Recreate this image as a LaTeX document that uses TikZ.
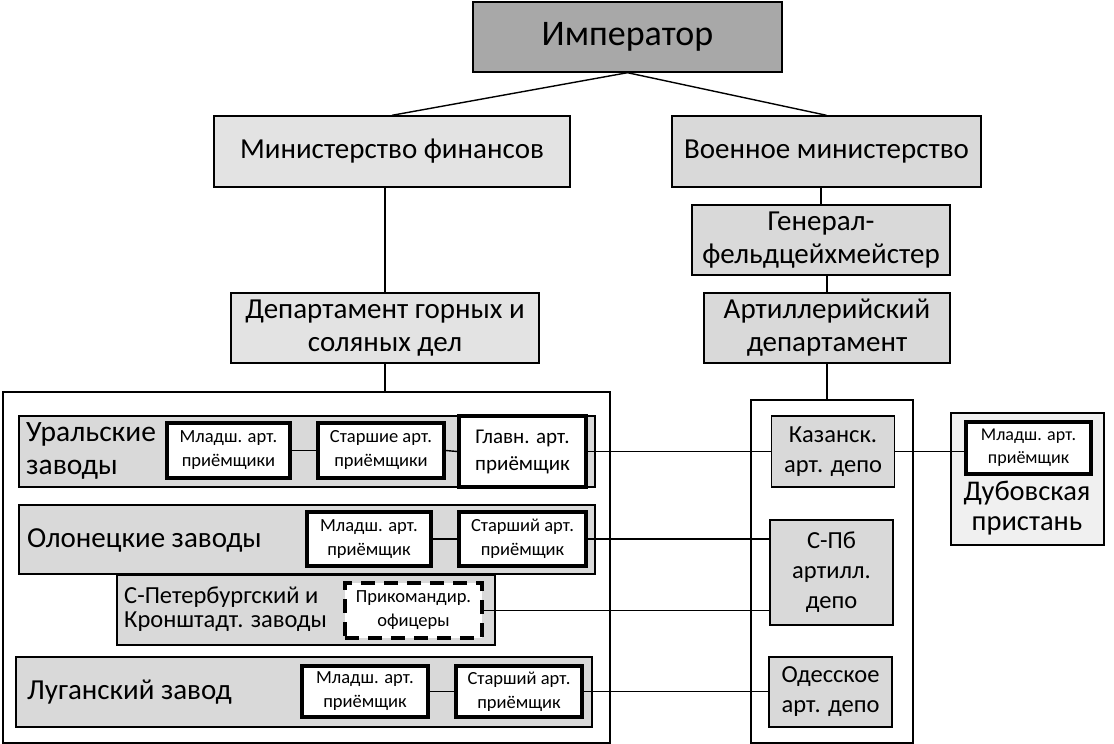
\documentclass[tikz,border=0pt]{standalone}
\usepackage{fontspec}
\setmainfont{Carlito}
\begin{document}
\begin{tikzpicture}[x=1pt,y=-1pt,
  base/.style={draw=black, line width=1.4pt, inner sep=0pt, align=center},
  bigf/.style={font=\fontsize{29}{33}\selectfont},
  midf/.style={font=\fontsize{24.5}{30}\selectfont},
  smallf/.style={font=\fontsize{18.5}{24}\selectfont},
  gbox/.style={base, fill=#1},
  thickbox/.style={base, line width=3.6pt, fill=white, smallf},
  dashbox/.style={base, line width=3.6pt, dash pattern=on 14pt off 9pt, fill=white, smallf},
  conn/.style={line width=1.4pt},
  strip/.style={base, fill=gray!30},
  ltext/.style={inner sep=0pt, align=left, anchor=west}
]
\useasboundingbox (0,0) rectangle (1114,744);

% top levels
\node[gbox=gray!68, minimum width=309pt, minimum height=70pt, font=\fontsize{36}{40}\selectfont] (imp) at (627.5,37) {Император};
\node[gbox=gray!22, minimum width=356pt, minimum height=71pt, bigf] (minfin) at (392,151.5) {Министерство финансов};
\node[gbox=gray!30, minimum width=309pt, minimum height=71pt, bigf] (voen) at (826.5,151.5) {Военное министерство};
\node[gbox=gray!30, minimum width=258pt, minimum height=70pt, bigf] (gen) at (821,240) {Генерал-\\фельдцейхмейстер};
\node[gbox=gray!30, minimum width=246pt, minimum height=70pt, bigf] (art) at (827,328) {Артиллерийский\\департамент};
\node[gbox=gray!22, minimum width=308pt, minimum height=70pt, bigf] (dep) at (385,328) {Департамент горных и\\соляных дел};

% outer containers
\node[base, fill=white, minimum width=607pt, minimum height=351pt] (lout) at (306.5,567.5) {};
\node[base, fill=white, minimum width=162pt, minimum height=343pt] (rout) at (832,571.5) {};

% strips
\node[strip, minimum width=576pt, minimum height=71pt] (ural) at (307,451.5) {};
\node[ltext, font=\fontsize{29.5}{33}\selectfont] at (26,451) {Уральские\\заводы};
\node[strip, minimum width=576pt, minimum height=69pt] (olon) at (307,539.5) {};
\node[ltext, bigf] at (27,540) {Олонецкие заводы};
\node[strip, minimum width=378pt, minimum height=70pt] (spbz) at (306,610) {};
\node[ltext, font=\fontsize{24.5}{24.5}\selectfont] at (124,609) {С-Петербургский и\\Кронштадт. заводы};
\node[strip, minimum width=576pt, minimum height=70pt] (lug) at (304,692) {};
\node[ltext, bigf] at (27,692) {Луганский завод};

% inner boxes
\node[thickbox, minimum width=123pt, minimum height=55pt] (um) at (228.5,450.5) {Младш. арт.\\приёмщики};
\node[thickbox, minimum width=126pt, minimum height=55pt] (us) at (381,450.5) {Старшие арт.\\приёмщики};
\node[thickbox, minimum width=127pt, minimum height=71pt, font=\fontsize{21}{27}\selectfont] (ug) at (522.5,451.5) {Главн. арт.\\приёмщик};

\node[thickbox, minimum width=124pt, minimum height=54pt] (om) at (369,539) {Младш. арт.\\приёмщик};
\node[thickbox, minimum width=127pt, minimum height=54pt] (os) at (522.5,539) {Старший арт.\\приёмщик};

\node[dashbox, minimum width=137pt, minimum height=55pt] (prik) at (413.5,610.5) {Прикомандир.\\офицеры};

\node[thickbox, minimum width=126pt, minimum height=51pt] (lm) at (365,691.5) {Младш. арт.\\приёмщик};
\node[thickbox, minimum width=126pt, minimum height=51pt] (ls) at (519,691.5) {Старший арт.\\приёмщик};

% depots
\node[gbox=gray!30, minimum width=123pt, minimum height=71pt, midf] (kaz) at (833,451.5) {Казанск.\\арт. депо};
\node[gbox=gray!30, minimum width=123pt, minimum height=105pt, midf] (spb) at (831.5,572.5) {С-Пб\\артилл.\\депо};
\node[gbox=gray!30, minimum width=123pt, minimum height=70pt, midf] (od) at (830.5,692) {Одесское\\арт. депо};

% Dubovka
\node[gbox=gray!12, minimum width=153pt, minimum height=132pt] (dub) at (1027.5,479) {};
\node[thickbox, minimum width=125pt, minimum height=52pt, font=\fontsize{18}{23}\selectfont] (dm) at (1028.5,448) {Младш. арт.\\приёмщик};
\node[inner sep=0pt, align=center, font=\fontsize{28.5}{30}\selectfont] (dubt) at (1027,508) {Дубовская\\пристань};

% connectors
\draw[conn] (imp.south) -- (minfin.north);
\draw[conn] (imp.south) -- (voen.north);
\draw[conn] (dep.north) -- (dep.north |- minfin.south);
\draw[conn] (dep.south) -- (dep.south |- lout.north);
\draw[conn] (gen.north) -- (gen.north |- voen.south);
\draw[conn] (art.north |- gen.south) -- (art.north);
\draw[conn] (art.south) -- (art.south |- rout.north);

\draw[conn] (um.east) -- (us.west);
\draw[conn] (us.east) -- (ug.west);
\draw[conn] (om.east) -- (os.west);
\draw[conn] (lm.east) -- (ls.west);

\draw[conn] (ug.east) -- (kaz.west);
\draw[conn] (kaz.east) -- (kaz.east -| dm.west);
\draw[conn] (os.east) -- (os.east -| spb.west);
\draw[conn] (prik.east) -- (prik.east -| spb.west);
\draw[conn] (ls.east) -- (ls.east -| od.west);
\end{tikzpicture}
\end{document}
